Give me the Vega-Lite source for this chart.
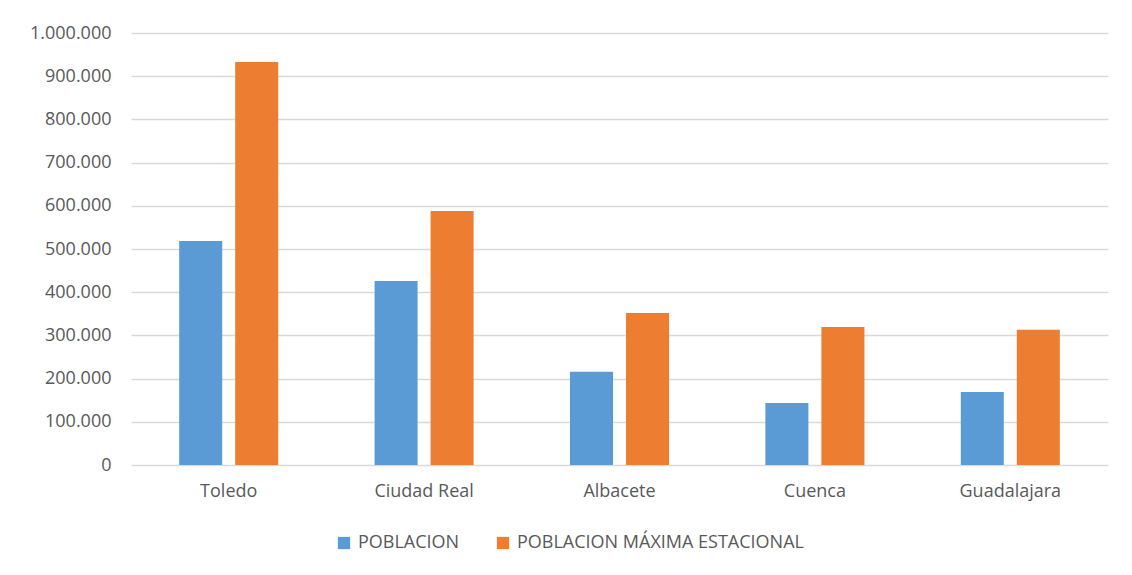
{
  "$schema": "https://vega.github.io/schema/vega-lite/v6.json",
  "autosize": {"type": "none"},
  "width": 977,
  "height": 432,
  "padding": {"left": 131, "top": 33, "right": 24, "bottom": 110},
  "background": "white",
  "config": {
    "locale": {"number": {"decimal": ",", "thousands": ".", "grouping": [3], "currency": ["", " €"]}},
    "view": {"stroke": null},
    "font": "Open Sans"
  },
  "data": {
    "values": [
      {"provincia": "Toledo", "serie": "POBLACION", "valor": 518500},
      {"provincia": "Toledo", "serie": "POBLACION MÁXIMA ESTACIONAL", "valor": 932800},
      {"provincia": "Ciudad Real", "serie": "POBLACION", "valor": 426000},
      {"provincia": "Ciudad Real", "serie": "POBLACION MÁXIMA ESTACIONAL", "valor": 588000},
      {"provincia": "Albacete", "serie": "POBLACION", "valor": 216000},
      {"provincia": "Albacete", "serie": "POBLACION MÁXIMA ESTACIONAL", "valor": 352000},
      {"provincia": "Cuenca", "serie": "POBLACION", "valor": 143500},
      {"provincia": "Cuenca", "serie": "POBLACION MÁXIMA ESTACIONAL", "valor": 319500},
      {"provincia": "Guadalajara", "serie": "POBLACION", "valor": 169000},
      {"provincia": "Guadalajara", "serie": "POBLACION MÁXIMA ESTACIONAL", "valor": 313000}
    ]
  },
  "mark": {"type": "bar"},
  "encoding": {
    "x": {
      "field": "provincia", "type": "nominal", "sort": null,
      "scale": {"paddingInner": 0, "paddingOuter": 0},
      "axis": {"title": null, "labelAngle": 0, "ticks": false, "domain": false, "labelPadding": 17, "labelFontSize": 18, "labelColor": "#595959"}
    },
    "xOffset": {
      "field": "serie", "type": "nominal", "sort": null,
      "scale": {"paddingInner": 0.232, "paddingOuter": 0.86}
    },
    "y": {
      "field": "valor", "type": "quantitative",
      "scale": {"domain": [0, 1000000], "nice": false},
      "axis": {"title": null, "values": [0, 100000, 200000, 300000, 400000, 500000, 600000, 700000, 800000, 900000, 1000000], "format": ",d", "ticks": false, "domain": false, "labelPadding": 20, "labelFontSize": 18, "labelColor": "#595959", "gridColor": "#d9d9d9", "gridWidth": 1.3}
    },
    "color": {
      "field": "serie", "type": "nominal", "sort": null,
      "scale": {"range": ["#5B9BD5", "#ED7D31"]},
      "legend": {"title": null, "orient": "none", "legendX": 204, "legendY": 501, "direction": "horizontal", "symbolType": "square", "symbolSize": 150, "symbolStrokeWidth": 0, "labelFontSize": 18, "labelColor": "#595959", "labelLimit": 0, "columnPadding": 34, "labelOffset": 5}
    }
  }
}
